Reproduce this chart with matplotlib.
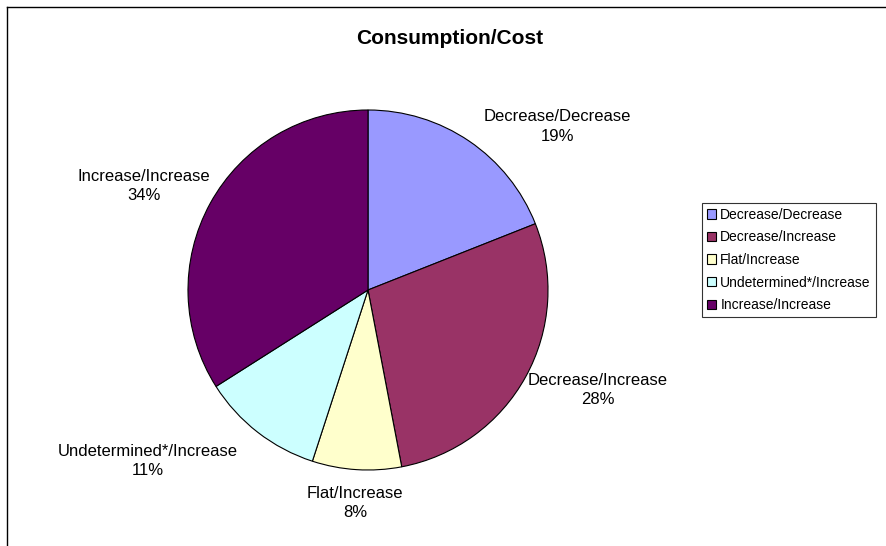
import matplotlib.pyplot as plt
from matplotlib.lines import Line2D

plt.rcParams['font.family'] = ['Liberation Sans', 'DejaVu Sans']

categories = ['Decrease/Decrease', 'Decrease/Increase', 'Flat/Increase',
              'Undetermined*/Increase', 'Increase/Increase']
shares = [19, 28, 8, 11, 34]
colors = ['#9999FF', '#993366', '#FFFFCC', '#CCFFFF', '#660066']

# where each outside label sits, in units of the pie radius
label_pos = [(1.05, 0.91), (1.278, -0.556), (-0.072, -1.183),
             (-1.222, -0.95), (-1.244, 0.578)]

fig = plt.figure(figsize=(8.86, 5.46), dpi=100)
fig.patch.set_facecolor('white')

# partial chart frame
fig.add_artist(Line2D([7 / 886, 1.0], [1 - 7 / 546, 1 - 7 / 546],
                      transform=fig.transFigure, color='black', lw=1.0))
fig.add_artist(Line2D([7 / 886, 7 / 886], [0.0, 1 - 7 / 546],
                      transform=fig.transFigure, color='black', lw=1.0))

cx, cy, r = 368 / 886, 1 - 290 / 546, 180
w, h = 2 * r / 886, 2 * r / 546
ax = fig.add_axes([cx - w / 2, cy - h / 2, w, h])

wedges, _ = ax.pie(shares, colors=colors, startangle=90, counterclock=False,
                   radius=1.0, wedgeprops=dict(edgecolor='black', linewidth=0.8))
ax.set_xlim(-1, 1)
ax.set_ylim(-1, 1)
ax.set_aspect('auto')
ax.axis('off')

for name, val, (lx, ly) in zip(categories, shares, label_pos):
    ax.text(lx, ly, f'{name}\n{val}%', ha='center', va='center',
            fontsize=12, linespacing=1.4, clip_on=False)

fig.text(450 / 886, 1 - 38 / 546, 'Consumption/Cost', ha='center', va='center',
         fontsize=15, fontweight='bold')

leg = fig.legend(wedges, categories, loc='center',
                 bbox_to_anchor=(789 / 886, 1 - 260 / 546),
                 fontsize=10, frameon=True, fancybox=False, handlelength=0.65,
                 handleheight=0.65, handletextpad=0.3, labelspacing=0.62,
                 borderpad=0.35, borderaxespad=0)
leg.get_frame().set_edgecolor('black')
leg.get_frame().set_linewidth(0.8)

fig.savefig('out.png', dpi=100)
